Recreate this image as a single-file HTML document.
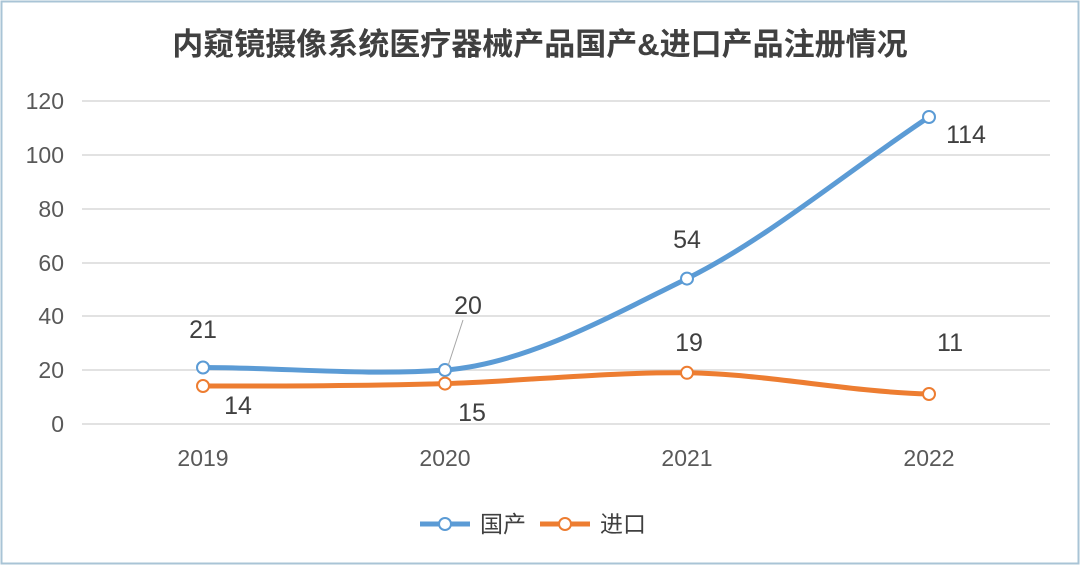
<!DOCTYPE html>
<html><head><meta charset="utf-8"><style>
html,body{margin:0;padding:0;background:#fff;}
svg{display:block;}
text{font-family:"Liberation Sans","Noto Sans CJK SC",sans-serif;}
</style></head><body>
<svg width="1080" height="565" viewBox="0 0 1080 565" xmlns="http://www.w3.org/2000/svg">
<rect x="1.5" y="1.5" width="1077" height="562" fill="#fff" stroke="#a9c4d6" stroke-width="2"/>
<text x="540" y="55" text-anchor="middle" font-size="31" font-weight="bold" fill="#404040">内窥镜摄像系统医疗器械产品国产&amp;进口产品注册情况</text>
<g stroke="#d9d9d9" stroke-width="1.5">
<line x1="82" y1="101" x2="1050" y2="101"/>
<line x1="82" y1="155" x2="1050" y2="155"/>
<line x1="82" y1="209" x2="1050" y2="209"/>
<line x1="82" y1="263" x2="1050" y2="263"/>
<line x1="82" y1="316" x2="1050" y2="316"/>
<line x1="82" y1="370" x2="1050" y2="370"/>
<line x1="82" y1="424" x2="1050" y2="424"/>
</g>
<g font-size="23" fill="#595959" text-anchor="end">
<text x="64" y="109">120</text>
<text x="64" y="163">100</text>
<text x="64" y="217">80</text>
<text x="64" y="271">60</text>
<text x="64" y="324">40</text>
<text x="64" y="378">20</text>
<text x="64" y="432">0</text>
</g>
<g font-size="23" fill="#595959" text-anchor="middle">
<text x="203" y="466">2019</text>
<text x="445" y="466">2020</text>
<text x="687" y="466">2021</text>
<text x="929" y="466">2022</text>
</g>
<path d="M203,367.5 C283,367.5 365,376 445,370 C525,364 607,318 687,278.6 C767,239 849,170 929,117" fill="none" stroke="#5b9bd5" stroke-width="5" stroke-linecap="round"/>
<path d="M203,386 C283,386 365,386 445,383.6 C525,381 607,372 687,372.8 C767,374 849,392 929,394" fill="none" stroke="#ed7d31" stroke-width="5" stroke-linecap="round"/>
<g fill="#fff" stroke="#5b9bd5" stroke-width="2">
<circle cx="203" cy="367.5" r="6"/><circle cx="445" cy="370" r="6"/><circle cx="687" cy="278.6" r="6"/><circle cx="929" cy="117" r="6"/>
</g>
<g fill="#fff" stroke="#ed7d31" stroke-width="2">
<circle cx="203" cy="386" r="6"/><circle cx="445" cy="383.6" r="6"/><circle cx="687" cy="372.8" r="6"/><circle cx="929" cy="394" r="6"/>
</g>
<line x1="448" y1="366" x2="463" y2="320" stroke="#a6a6a6" stroke-width="1"/>
<g font-size="25" fill="#404040" text-anchor="middle">
<text x="203" y="338">21</text>
<text x="468" y="314">20</text>
<text x="687" y="248">54</text>
<text x="966" y="143">114</text>
<text x="238" y="414">14</text>
<text x="472" y="421">15</text>
<text x="689" y="351">19</text>
<text x="950" y="351">11</text>
</g>
<line x1="420" y1="524" x2="470" y2="524" stroke="#5b9bd5" stroke-width="5"/>
<circle cx="445" cy="524" r="6" fill="#fff" stroke="#5b9bd5" stroke-width="2"/>
<text x="480" y="532" font-size="23" fill="#404040">国产</text>
<line x1="540" y1="524" x2="590" y2="524" stroke="#ed7d31" stroke-width="5"/>
<circle cx="565" cy="524" r="6" fill="#fff" stroke="#ed7d31" stroke-width="2"/>
<text x="600" y="532" font-size="23" fill="#404040">进口</text>
</svg>
</body></html>
